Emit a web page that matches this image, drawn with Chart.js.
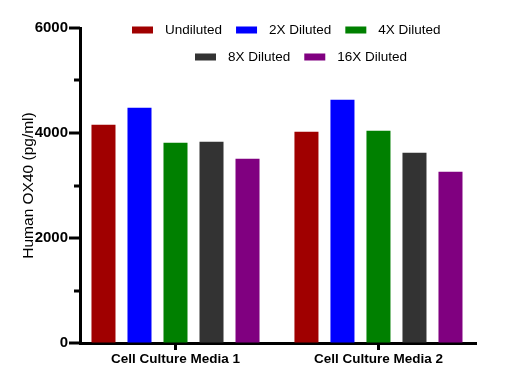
<!DOCTYPE html>
<html lang="en">
<head>
    <meta charset="UTF-8">
    <title>Human OX40 dilution</title>
    <script src="https://cdn.jsdelivr.net/npm/chart.js"></script>
    <style>
        html, body { margin: 0; padding: 0; background: #fff; }
        #wrap { width: 520px; height: 385px; }
    </style>
</head>
<body>
    <div id="wrap"><canvas id="ox40Chart" width="520" height="385"></canvas></div>

    <script>
        // Chart data
        const categories = ['Cell Culture Media 1', 'Cell Culture Media 2'];
        const seriesNames = ['Undiluted', '2X Diluted', '4X Diluted', '8X Diluted', '16X Diluted'];
        const seriesColors = ['#A00000', '#0000FF', '#008000', '#333333', '#800080'];
        const undiluted = [4158, 4025];
        const diluted2x = [4482, 4634];
        const diluted4x = [3815, 4044];
        const diluted8x = [3834, 3625];
        const diluted16x = [3510, 3263];
        const seriesValues = [undiluted, diluted2x, diluted4x, diluted8x, diluted16x];
        const yMax = 6000;
        const yLabelStep = 2000;
        const yMinorStep = 1000;

        const fontFamily = '"Liberation Sans", Arial, sans-serif';

        // legend drawn inside the plot, two rows like the original
        const legendRows = [
            { items: [0, 1, 2], x: 132, y: 30 },
            { items: [3, 4], x: 195, y: 57 }
        ];

        const insideLegend = {
            id: 'insideLegend',
            afterDraw(chart) {
                const ctx = chart.ctx;
                ctx.save();
                ctx.font = '13.5px ' + fontFamily;
                ctx.textBaseline = 'middle';
                ctx.textAlign = 'left';
                legendRows.forEach(row => {
                    let x = row.x;
                    row.items.forEach(i => {
                        const ds = chart.data.datasets[i];
                        ctx.fillStyle = ds.backgroundColor;
                        ctx.fillRect(x, row.y - 3.5, 21, 7);
                        ctx.fillStyle = '#000';
                        ctx.fillText(ds.label, x + 33, row.y);
                        x += 33 + ctx.measureText(ds.label).width + 14;
                    });
                });
                ctx.restore();
            }
        };

        // y axis ticks: long at labelled values, short in between
        const yTickMarks = {
            id: 'yTickMarks',
            afterDraw(chart) {
                const ctx = chart.ctx;
                const y = chart.scales.y;
                ctx.save();
                ctx.strokeStyle = '#000';
                ctx.lineWidth = 3;
                y.ticks.forEach(t => {
                    const py = Math.round(y.getPixelForValue(t.value));
                    const len = t.value % yLabelStep === 0 ? 11 : 6;
                    ctx.beginPath();
                    ctx.moveTo(y.right - len, py);
                    ctx.lineTo(y.right, py);
                    ctx.stroke();
                });
                ctx.restore();
            }
        };

        new Chart(document.getElementById('ox40Chart'), {
            type: 'bar',
            data: {
                labels: categories,
                datasets: seriesNames.map((name, i) => ({
                    label: name,
                    data: seriesValues[i],
                    backgroundColor: seriesColors[i],
                    borderWidth: 0,
                    categoryPercentage: 0.887,
                    barPercentage: 0.667
                }))
            },
            options: {
                responsive: false,
                animation: false,
                layout: { padding: { top: 28, right: 44, left: 0, bottom: 0 } },
                plugins: {
                    legend: { display: false },
                    tooltip: { enabled: false }
                },
                scales: {
                    x: {
                        offset: true,
                        afterFit: scale => { scale.height = 42; },
                        // groups sit a little closer to the axis ends than a half category
                        afterBuildTicks: scale => {
                            scale._startValue = -0.4705;
                            scale._valueRange = 1.951;
                        },
                        grid: {
                            offset: false,
                            drawOnChartArea: false,
                            tickLength: 7,
                            tickWidth: 3,
                            tickColor: '#000'
                        },
                        border: { color: '#000', width: 3 },
                        ticks: {
                            color: '#000',
                            padding: 1,
                            font: { family: fontFamily, size: 13.5, weight: 'bold' }
                        }
                    },
                    y: {
                        min: 0,
                        max: yMax,
                        afterFit: scale => { scale.width = 80; },
                        grid: {
                            drawOnChartArea: false,
                            drawTicks: true,
                            tickLength: 11,
                            tickColor: 'rgba(0,0,0,0)'
                        },
                        border: { color: '#000', width: 3 },
                        ticks: {
                            stepSize: yMinorStep,
                            color: '#000',
                            padding: 1,
                            callback: v => v % yLabelStep === 0 ? v : '',
                            font: { family: fontFamily, size: 15, weight: 'bold' }
                        },
                        title: {
                            display: true,
                            text: 'Human OX40 (pg/ml)',
                            color: '#000',
                            padding: { top: 19, bottom: 0 },
                            font: { family: fontFamily, size: 15.5 }
                        }
                    }
                }
            },
            plugins: [insideLegend, yTickMarks]
        });
    </script>
</body>
</html>
